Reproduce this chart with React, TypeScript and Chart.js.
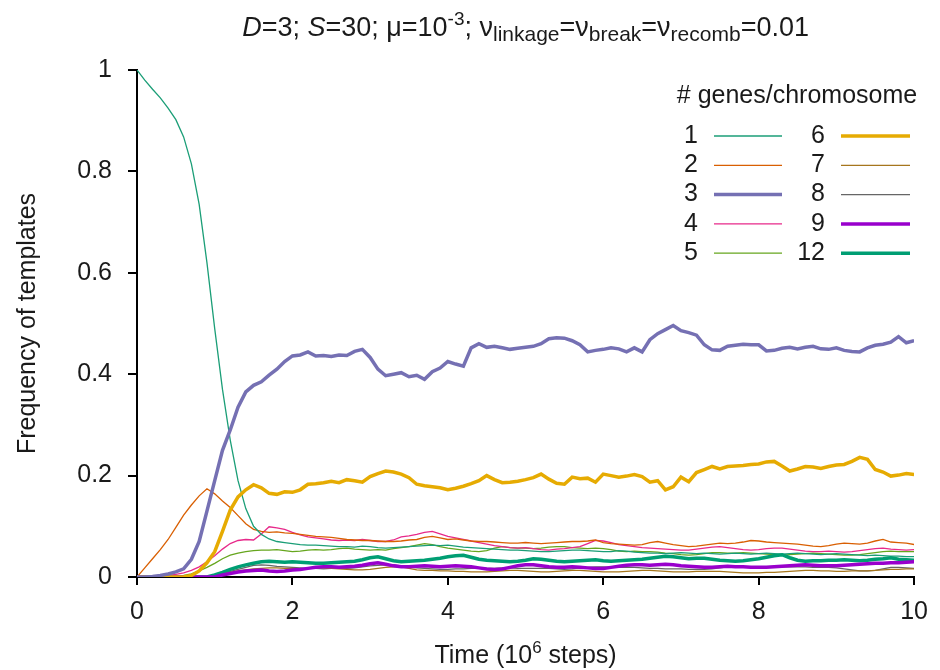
import React, { useEffect, useRef } from "react";
import { Chart, registerables } from "chart.js";
Chart.register(...registerables);

const TIMES = [0,0.1,0.2,0.3,0.4,0.5,0.6,0.7,0.8,0.9,1,1.1,1.2,1.3,1.4,1.5,1.6,1.7,1.8,1.9,2,2.1,2.2,2.3,2.4,2.5,2.6,2.7,2.8,2.9,3,3.1,3.2,3.3,3.4,3.5,3.6,3.7,3.8,3.9,4,4.1,4.2,4.3,4.4,4.5,4.6,4.7,4.8,4.9,5,5.1,5.2,5.3,5.4,5.5,5.6,5.7,5.8,5.9,6,6.1,6.2,6.3,6.4,6.5,6.6,6.7,6.8,6.9,7,7.1,7.2,7.3,7.4,7.5,7.6,7.7,7.8,7.9,8,8.1,8.2,8.3,8.4,8.5,8.6,8.7,8.8,8.9,9,9.1,9.2,9.3,9.4,9.5,9.6,9.7,9.8,9.9,10];

const S1 = [1.0,0.98,0.962,0.945,0.925,0.902,0.868,0.815,0.735,0.62,0.49,0.37,0.27,0.19,0.135,0.1,0.084,0.075,0.07,0.068,0.066,0.064,0.063,0.063,0.062,0.061,0.06,0.06,0.059,0.061,0.06,0.058,0.057,0.058,0.059,0.06,0.061,0.062,0.063,0.062,0.063,0.061,0.059,0.058,0.057,0.056,0.055,0.054,0.053,0.053,0.052,0.051,0.05,0.05,0.051,0.052,0.053,0.053,0.052,0.051,0.05,0.05,0.052,0.051,0.049,0.048,0.047,0.047,0.046,0.047,0.048,0.047,0.046,0.047,0.046,0.045,0.046,0.047,0.046,0.045,0.046,0.047,0.046,0.045,0.046,0.047,0.046,0.045,0.044,0.045,0.046,0.045,0.044,0.043,0.042,0.043,0.042,0.041,0.041,0.04,0.04];
const S2 = [0,0.018,0.036,0.054,0.074,0.098,0.122,0.142,0.16,0.174,0.164,0.15,0.137,0.121,0.105,0.094,0.09,0.088,0.089,0.087,0.086,0.084,0.082,0.08,0.079,0.078,0.076,0.074,0.073,0.072,0.072,0.071,0.07,0.07,0.071,0.073,0.074,0.078,0.08,0.077,0.074,0.075,0.073,0.071,0.07,0.07,0.069,0.068,0.067,0.067,0.068,0.067,0.066,0.067,0.068,0.069,0.07,0.07,0.071,0.073,0.068,0.066,0.065,0.064,0.063,0.064,0.068,0.07,0.067,0.064,0.062,0.06,0.061,0.063,0.065,0.067,0.066,0.067,0.069,0.072,0.071,0.069,0.068,0.067,0.066,0.065,0.063,0.061,0.06,0.062,0.065,0.067,0.066,0.065,0.067,0.071,0.074,0.069,0.068,0.067,0.064];
const S3 = [0,0,0.001,0.003,0.006,0.01,0.016,0.035,0.07,0.13,0.19,0.25,0.29,0.335,0.365,0.378,0.385,0.398,0.41,0.425,0.436,0.438,0.444,0.436,0.437,0.435,0.438,0.437,0.445,0.449,0.433,0.41,0.397,0.4,0.403,0.395,0.398,0.39,0.405,0.412,0.425,0.42,0.416,0.452,0.46,0.453,0.455,0.452,0.449,0.451,0.453,0.455,0.46,0.47,0.472,0.471,0.466,0.458,0.444,0.447,0.449,0.452,0.45,0.444,0.452,0.444,0.468,0.48,0.488,0.496,0.486,0.482,0.477,0.458,0.448,0.447,0.455,0.457,0.459,0.458,0.458,0.446,0.447,0.451,0.453,0.45,0.453,0.455,0.45,0.449,0.452,0.447,0.445,0.444,0.452,0.457,0.459,0.463,0.474,0.462,0.466];
const S4 = [0,0,0.001,0.002,0.003,0.005,0.008,0.013,0.02,0.03,0.042,0.055,0.066,0.072,0.074,0.073,0.085,0.099,0.097,0.094,0.088,0.083,0.079,0.077,0.075,0.073,0.072,0.073,0.072,0.074,0.072,0.07,0.07,0.073,0.079,0.081,0.084,0.088,0.09,0.085,0.08,0.077,0.074,0.071,0.068,0.065,0.062,0.06,0.058,0.057,0.058,0.056,0.054,0.053,0.055,0.056,0.058,0.06,0.066,0.072,0.071,0.068,0.064,0.062,0.06,0.058,0.057,0.056,0.055,0.054,0.053,0.053,0.055,0.057,0.059,0.06,0.058,0.056,0.054,0.053,0.054,0.056,0.057,0.057,0.055,0.053,0.051,0.05,0.05,0.051,0.05,0.049,0.05,0.052,0.054,0.056,0.057,0.055,0.054,0.053,0.054];
const S5 = [0,0,0,0,0,0.001,0.003,0.006,0.012,0.019,0.027,0.036,0.043,0.047,0.05,0.052,0.053,0.053,0.054,0.052,0.05,0.051,0.053,0.054,0.053,0.054,0.056,0.057,0.055,0.054,0.053,0.054,0.053,0.056,0.058,0.06,0.063,0.066,0.064,0.06,0.057,0.055,0.053,0.051,0.05,0.052,0.057,0.06,0.058,0.057,0.057,0.056,0.057,0.059,0.06,0.06,0.058,0.057,0.056,0.057,0.056,0.054,0.051,0.05,0.051,0.05,0.05,0.049,0.047,0.046,0.044,0.043,0.044,0.046,0.048,0.048,0.047,0.047,0.048,0.047,0.046,0.045,0.044,0.043,0.044,0.045,0.046,0.047,0.046,0.045,0.044,0.043,0.043,0.044,0.046,0.048,0.05,0.051,0.05,0.05,0.05];
const S6 = [0,0,0,0,0,0,0,0.003,0.012,0.028,0.05,0.09,0.132,0.158,0.172,0.182,0.176,0.165,0.163,0.168,0.167,0.172,0.183,0.184,0.186,0.189,0.186,0.192,0.19,0.187,0.198,0.204,0.209,0.207,0.203,0.196,0.183,0.18,0.178,0.176,0.172,0.175,0.179,0.184,0.19,0.2,0.192,0.186,0.187,0.189,0.192,0.196,0.203,0.193,0.185,0.183,0.197,0.194,0.195,0.187,0.203,0.2,0.197,0.199,0.202,0.198,0.187,0.19,0.172,0.178,0.197,0.188,0.206,0.212,0.218,0.213,0.218,0.219,0.22,0.222,0.223,0.227,0.228,0.219,0.209,0.213,0.218,0.217,0.214,0.218,0.221,0.222,0.228,0.236,0.232,0.212,0.207,0.199,0.201,0.204,0.202];
const S7 = [0,0,0,0,0,0,0,0,0,0,0.003,0.006,0.009,0.012,0.014,0.016,0.017,0.018,0.018,0.017,0.017,0.016,0.017,0.018,0.018,0.017,0.016,0.015,0.014,0.014,0.015,0.017,0.019,0.02,0.02,0.017,0.014,0.013,0.013,0.012,0.012,0.011,0.011,0.01,0.01,0.01,0.011,0.012,0.013,0.013,0.012,0.011,0.01,0.01,0.011,0.012,0.013,0.013,0.012,0.011,0.01,0.01,0.01,0.011,0.012,0.013,0.013,0.012,0.011,0.01,0.01,0.01,0.011,0.011,0.011,0.011,0.01,0.009,0.008,0.008,0.008,0.009,0.009,0.01,0.011,0.012,0.013,0.013,0.012,0.012,0.011,0.011,0.012,0.012,0.012,0.013,0.014,0.015,0.015,0.016,0.016];
const S8 = [0,0,0,0,0,0,0,0,0,0,0.003,0.007,0.011,0.015,0.019,0.023,0.024,0.023,0.021,0.02,0.019,0.018,0.017,0.017,0.016,0.017,0.017,0.017,0.018,0.02,0.022,0.023,0.024,0.024,0.022,0.02,0.018,0.017,0.016,0.015,0.015,0.016,0.016,0.017,0.017,0.017,0.017,0.018,0.018,0.017,0.017,0.017,0.017,0.017,0.016,0.015,0.016,0.018,0.019,0.02,0.02,0.019,0.019,0.019,0.019,0.018,0.017,0.017,0.016,0.016,0.016,0.015,0.015,0.015,0.016,0.018,0.02,0.02,0.02,0.02,0.02,0.02,0.02,0.02,0.02,0.02,0.02,0.019,0.019,0.019,0.018,0.016,0.014,0.012,0.012,0.013,0.016,0.019,0.019,0.018,0.017];
const S9 = [0,0,0,0,0,0,0,0,0,0,0,0.004,0.007,0.01,0.012,0.013,0.014,0.012,0.011,0.012,0.014,0.015,0.017,0.019,0.02,0.02,0.019,0.02,0.021,0.023,0.026,0.028,0.025,0.022,0.02,0.02,0.021,0.022,0.021,0.02,0.021,0.022,0.021,0.02,0.018,0.016,0.015,0.016,0.019,0.022,0.024,0.024,0.022,0.02,0.019,0.019,0.02,0.019,0.018,0.017,0.017,0.019,0.021,0.023,0.024,0.024,0.023,0.024,0.025,0.024,0.022,0.021,0.02,0.019,0.019,0.02,0.021,0.02,0.02,0.019,0.019,0.019,0.02,0.021,0.022,0.023,0.024,0.023,0.022,0.022,0.022,0.023,0.024,0.025,0.026,0.027,0.027,0.028,0.028,0.029,0.03];
const S12 = [0,0,0,0,0,0,0,0,0,0,0.004,0.009,0.015,0.02,0.024,0.027,0.03,0.031,0.03,0.029,0.03,0.029,0.028,0.027,0.027,0.028,0.029,0.03,0.031,0.034,0.038,0.04,0.036,0.032,0.03,0.031,0.032,0.033,0.035,0.037,0.04,0.042,0.043,0.039,0.035,0.033,0.032,0.031,0.03,0.031,0.033,0.036,0.035,0.033,0.031,0.03,0.031,0.032,0.033,0.034,0.032,0.031,0.032,0.033,0.034,0.035,0.037,0.039,0.041,0.04,0.038,0.036,0.037,0.037,0.035,0.033,0.032,0.031,0.032,0.034,0.036,0.039,0.042,0.044,0.038,0.033,0.031,0.032,0.032,0.033,0.033,0.034,0.033,0.032,0.033,0.035,0.036,0.038,0.035,0.034,0.033];

const SERIES_LABELS = ["1", "2", "3", "4", "5", "6", "7", "8", "9", "12"];
const SERIES_VALUES = [S1, S2, S3, S4, S5, S6, S7, S8, S9, S12];
const SERIES_COLORS = ["#1b9e77", "#d95f02", "#7570b3", "#e7298a", "#66a61e", "#e6ab02", "#a6761d", "#666666", "#9900cc", "#009e73"];
const SERIES_WIDTHS = [1.3, 1.3, 3.5, 1.3, 1.3, 3.5, 1.3, 1.3, 3.5, 3.5];

const X_TICKS = [0, 2, 4, 6, 8, 10];
const Y_TICKS = [0, 0.2, 0.4, 0.6, 0.8, 1];

const FONT = '"Liberation Sans", Arial, Helvetica, sans-serif';
const TEXT = "#1a1a1a";

type Seg = { text: string; size: number; italic?: boolean; dy?: number };

function drawRich(ctx: CanvasRenderingContext2D, segs: Seg[], cx: number, baseline: number) {
  const widths = segs.map((s) => {
    ctx.font = `${s.italic ? "italic " : ""}${s.size}px ${FONT}`;
    return ctx.measureText(s.text).width;
  });
  const total = widths.reduce((a, b) => a + b, 0);
  let x = cx - total / 2;
  ctx.textAlign = "left";
  ctx.textBaseline = "alphabetic";
  segs.forEach((s, i) => {
    ctx.font = `${s.italic ? "italic " : ""}${s.size}px ${FONT}`;
    ctx.fillText(s.text, x, baseline + (s.dy || 0));
    x += widths[i];
  });
}

const decorPlugin = {
  id: "decor",
  afterDraw(chart: any) {
    const ctx: CanvasRenderingContext2D = chart.ctx;
    const area = chart.chartArea;
    const cx = (area.left + area.right) / 2;
    ctx.save();
    ctx.fillStyle = TEXT;
    // Title
    drawRich(ctx, [
      { text: "D", size: 27, italic: true },
      { text: "=3; ", size: 27 },
      { text: "S", size: 27, italic: true },
      { text: "=30; \u03bc=10", size: 27 },
      { text: "-3", size: 19, dy: -11 },
      { text: "; \u03bd", size: 27 },
      { text: "linkage", size: 21, dy: 5 },
      { text: "=\u03bd", size: 27 },
      { text: "break", size: 21, dy: 5 },
      { text: "=\u03bd", size: 27 },
      { text: "recomb", size: 21, dy: 5 },
      { text: "=0.01", size: 27 },
    ], cx, 36);
    // X title
    drawRich(ctx, [
      { text: "Time (10", size: 25 },
      { text: "6", size: 17, dy: -10 },
      { text: " steps)", size: 25 },
    ], cx, 663);
    // Y title
    ctx.save();
    ctx.translate(28, (area.top + area.bottom) / 2);
    ctx.rotate(-Math.PI / 2);
    ctx.font = `25px ${FONT}`;
    ctx.textAlign = "center";
    ctx.textBaseline = "middle";
    ctx.fillText("Frequency of templates", 0, 0);
    ctx.restore();
    // Legend
    ctx.font = `25px ${FONT}`;
    ctx.textAlign = "center";
    ctx.textBaseline = "middle";
    ctx.fillText("# genes/chromosome", 797, 96);
    const rowY0 = 136;
    const rowGap = 29.3;
    SERIES_LABELS.forEach((lab, i) => {
      const col = i < 5 ? 0 : 1;
      const row = i % 5;
      const y = rowY0 + row * rowGap;
      const numRight = col === 0 ? 698 : 825;
      const lx0 = col === 0 ? 714 : 841;
      const lx1 = col === 0 ? 782 : 910;
      ctx.fillStyle = TEXT;
      ctx.textAlign = "right";
      ctx.fillText(lab, numRight, y);
      ctx.strokeStyle = SERIES_COLORS[i];
      ctx.lineWidth = SERIES_WIDTHS[i];
      ctx.beginPath();
      ctx.moveTo(lx0, y);
      ctx.lineTo(lx1, y);
      ctx.stroke();
    });
    ctx.restore();
  },
};

export default function App() {
  const ref = useRef<HTMLCanvasElement>(null);
  useEffect(() => {
    if (!ref.current) return;
    const datasets = SERIES_LABELS.map((lab, i) => ({
      label: lab,
      data: TIMES.map((t, j) => ({ x: t, y: SERIES_VALUES[i][j] })),
      borderColor: SERIES_COLORS[i],
      backgroundColor: SERIES_COLORS[i],
      borderWidth: SERIES_WIDTHS[i],
      pointRadius: 0,
      tension: 0,
      fill: false,
      order: SERIES_WIDTHS[i] > 2 ? 0 : 1,
    }));
    const chart = new Chart(ref.current, {
      type: "line",
      data: { datasets },
      options: {
        animation: false,
        responsive: false,
        maintainAspectRatio: false,
        layout: { padding: { top: 70, right: 17, left: 0, bottom: 0 } },
        plugins: { legend: { display: false }, tooltip: { enabled: false }, title: { display: false } },
        scales: {
          x: {
            type: "linear",
            min: 0,
            max: 10,
            afterBuildTicks: (s: any) => { s.ticks = X_TICKS.map((v) => ({ value: v })); },
            afterFit: (s: any) => { s.height = 93; },
            ticks: { font: { size: 25, family: FONT }, color: TEXT, padding: 12, maxRotation: 0, autoSkip: false, callback: (v: any) => String(Math.round(Number(v) * 10) / 10) },
            grid: { display: true, drawOnChartArea: false, drawTicks: true, tickLength: 8, color: "#000", lineWidth: 2 },
            border: { display: true, color: "#000", width: 2 },
          },
          y: {
            type: "linear",
            min: 0,
            max: 1,
            afterBuildTicks: (s: any) => { s.ticks = Y_TICKS.map((v) => ({ value: v })); },
            afterFit: (s: any) => { s.width = 137; },
            ticks: { font: { size: 25, family: FONT }, color: TEXT, padding: 16, autoSkip: false, callback: (v: any) => String(Math.round(Number(v) * 10) / 10) },
            grid: { display: true, drawOnChartArea: false, drawTicks: true, tickLength: 9, color: "#000", lineWidth: 2 },
            border: { display: true, color: "#000", width: 2 },
          },
        },
      },
      plugins: [decorPlugin],
    });
    return () => chart.destroy();
  }, []);
  return (
    <div style={{ position: "fixed", left: 0, top: 0, width: 940, height: 670, background: "#fff" }}>
      <canvas ref={ref} width={940} height={670} style={{ width: 940, height: 670, display: "block" }} />
    </div>
  );
}
